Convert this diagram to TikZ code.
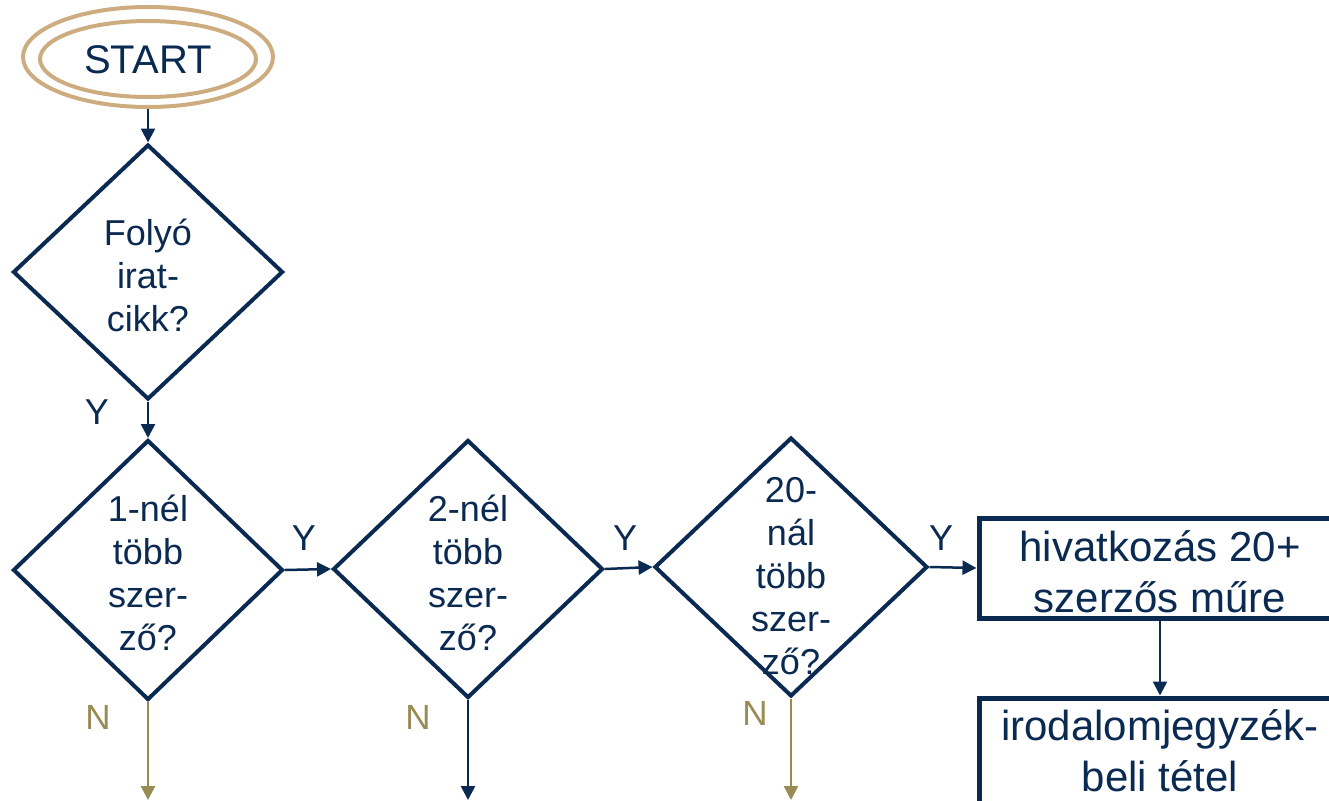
\documentclass[tikz,border=0pt]{standalone}
\usepackage{fontspec}
\setmainfont{Liberation Sans}
\usetikzlibrary{shapes.geometric,arrows.meta}
\definecolor{navy}{RGB}{10,42,82}
\definecolor{tanc}{RGB}{205,172,128}
\definecolor{olivec}{RGB}{152,140,84}
\begin{document}
\begin{tikzpicture}[x=1pt,y=-1pt,
  dia/.style={diamond, draw=navy, line width=4pt, inner sep=0pt},
  txt/.style={text=navy, align=center, font=\fontsize{36}{43}\selectfont},
  boxtxt/.style={text=navy, align=center, font=\fontsize{42}{51}\selectfont},
  procbox/.style={rectangle, draw=navy, line width=5pt, minimum width=366pt, inner sep=0pt},
  arr/.style={draw=navy, line width=2.5pt, -{Triangle[length=14pt,width=14pt]}},
  narr/.style={draw=olivec, line width=2.5pt, -{Triangle[length=14pt,width=14pt]}},
  lab/.style={text=navy, font=\fontsize{36}{43}\selectfont},
  nlab/.style={text=olivec, font=\fontsize{35}{42}\selectfont}]
\useasboundingbox (0,0) rectangle (1329,800);
\clip (0,0) rectangle (1329,800);
% start
\node[ellipse, draw=tanc, line width=4pt, minimum width=250pt, minimum height=100pt, inner sep=0pt] (start) at (148,57) {};
\draw[tanc, line width=4pt] (148,59) ellipse [x radius=108, y radius=38];
\node[text=navy, font=\fontsize{40}{48}\selectfont] (starttxt) at (148,60) {START};
% diamonds
\node[dia, minimum width=270pt, minimum height=255pt] (d1) at (148,272) {};
\node[txt] (t1) at (148,275) {Folyó\\irat-\\cikk?};
\node[dia, minimum width=270pt, minimum height=260pt] (d2) at (148,570) {};
\node[txt] (t2) at (148,573) {1-nél\\több\\szer-\\ző?};
\node[dia, minimum width=270pt, minimum height=258pt] (d3) at (468,569) {};
\node[txt] (t3) at (468,573) {2-nél\\több\\szer-\\ző?};
\node[dia, minimum width=273pt, minimum height=259pt] (d4) at (791,567) {};
\node[txt] (t4) at (791,576) {20-\\nál\\több\\szer-\\ző?};
% boxes
\node[procbox, minimum height=100pt] (b1) at (1162,568) {};
\node[boxtxt] (bt1) at (1160,572) {hivatkozás 20+\\szerzős műre};
\node[procbox, minimum height=112pt] (b2) at (1162,754) {};
\node[boxtxt] (bt2) at (1160,751) {irodalomjegyzék-\\beli tétel};
% end coordinates
\coordinate (e1) at (148,800);
\coordinate (e2) at (468,800);
\coordinate (e3) at (791,800);
% connectors
\draw[arr] (start.south) -- (d1.north);
\draw[arr] (d1.south) -- (d2.north);
\draw[arr] (d2.east) -- (d3.west);
\draw[arr] (d3.east) -- (d4.west);
\draw[arr] (d4.east) -- (b1.west);
\draw[arr] (b1.south -| bt1) -- (b2.north -| bt1);
\draw[narr] (d2.south) -- (e1);
\draw[arr] (d3.south) -- (e2);
\draw[narr] (d4.south) -- (e3);
% labels
\node[lab] (y1) at (97,412) {Y};
\node[lab] (y2) at (304,538) {Y};
\node[lab] (y3) at (625,538) {Y};
\node[lab] (y4) at (941,538) {Y};
\node[nlab] (n1) at (98,717) {N};
\node[nlab] (n2) at (418,717) {N};
\node[nlab] (n3) at (755,713) {N};
\end{tikzpicture}
\end{document}
